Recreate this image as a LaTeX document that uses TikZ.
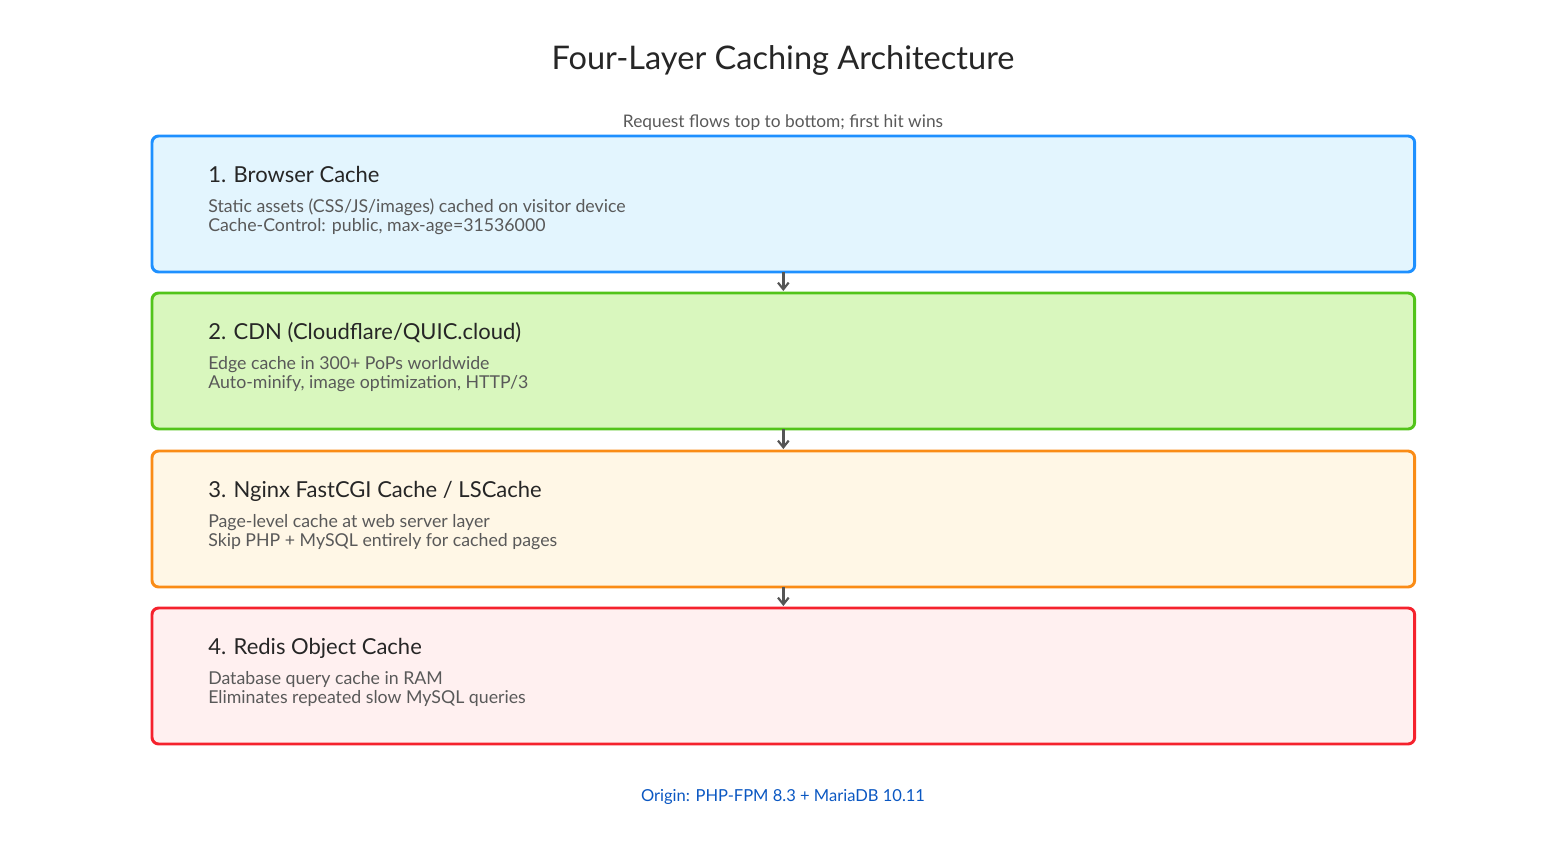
\documentclass[tikz,border=0pt]{standalone}
\usepackage{fontspec}
\setmainfont{Lato}
\usepackage{tikz}
\usetikzlibrary{positioning,arrows.meta}
\definecolor{blueline}{HTML}{1E90FF}
\definecolor{bluefill}{HTML}{E3F5FE}
\definecolor{greenline}{HTML}{52C41A}
\definecolor{greenfill}{HTML}{D9F7BE}
\definecolor{orangeline}{HTML}{FA8C16}
\definecolor{orangefill}{HTML}{FFF7E6}
\definecolor{redline}{HTML}{F5222D}
\definecolor{redfill}{HTML}{FFF0F0}
\definecolor{headtext}{HTML}{262626}
\definecolor{bodytext}{HTML}{595959}
\definecolor{origintext}{HTML}{0A57C2}
\definecolor{arrowgray}{HTML}{555555}

\begin{document}
\begin{tikzpicture}[x=0.75pt,y=-0.75pt,
    layerbox/.style={draw, line width=2.2pt, rounded corners=5pt, anchor=north west,
        minimum width=947pt, minimum height=102pt, inner sep=0pt, outer sep=0pt},
    layerhead/.style={anchor=base west, inner sep=0pt, text=headtext, font=\fontsize{16.5}{19}\selectfont},
    layerbody/.style={anchor=base west, inner sep=0pt, text=bodytext, align=left, font=\fontsize{13.3}{13.6}\selectfont},
    flow/.style={-{Straight Barb[length=5pt,width=8pt,line width=1.6pt]}, line width=1.8pt, draw=arrowgray, shorten >=1.5pt}]
    \useasboundingbox (0,0) rectangle (1566,846);

    % Titel
    \node[text=headtext, font=\fontsize{24.4}{28}\selectfont] (title) at (783,60) {Four-Layer Caching Architecture};
    \node[text=bodytext, font=\fontsize{13}{15}\selectfont] (subtitle) at (783,123) {Request flows top to bottom; first hit wins};

    % Schichten
    \node[layerbox, draw=blueline, fill=bluefill] (browser) at (152,136) {};
    \node[layerbox, draw=greenline, fill=greenfill] (cdn) at (152,293) {};
    \node[layerbox, draw=orangeline, fill=orangefill] (nginx) at (152,451) {};
    \node[layerbox, draw=redline, fill=redfill] (redis) at (152,608) {};

    % Texte
    \node[layerhead] (browserhead) at (208,182) {1. Browser Cache};
    \node[layerbody] (browserbody) at (208,231) {Static assets (CSS/JS/images) cached on visitor device\\Cache-Control: public, max-age=31536000};
    \node[layerhead] (cdnhead) at (208,339) {2. CDN (Cloudflare/QUIC.cloud)};
    \node[layerbody] (cdnbody) at (208,388) {Edge cache in 300+ PoPs worldwide\\Auto-minify, image optimization, HTTP/3};
    \node[layerhead] (nginxhead) at (208,497) {3. Nginx FastCGI Cache / LSCache};
    \node[layerbody] (nginxbody) at (208,546) {Page-level cache at web server layer\\Skip PHP + MySQL entirely for cached pages};
    \node[layerhead] (redishead) at (208,654) {4. Redis Object Cache};
    \node[layerbody] (redisbody) at (208,703) {Database query cache in RAM\\Eliminates repeated slow MySQL queries};

    \node[text=origintext, font=\fontsize{12.4}{14}\selectfont] (origin) at (783,797) {Origin: PHP-FPM 8.3 + MariaDB 10.11};

    % Pfeile
    \draw[flow] (browser.south) -- (cdn.north);
    \draw[flow] (cdn.south) -- (nginx.north);
    \draw[flow] (nginx.south) -- (redis.north);
\end{tikzpicture}
\end{document}
